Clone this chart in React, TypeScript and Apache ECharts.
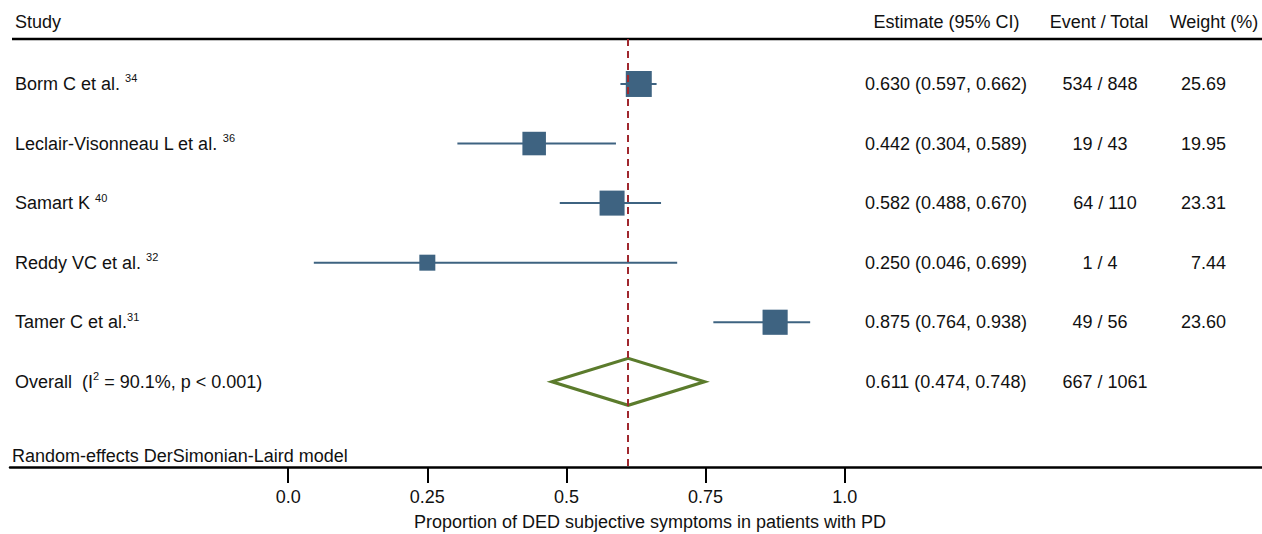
import React, { useEffect, useRef } from "react";
import * as echarts from "echarts";

const studies = ["Borm C et al. ", "Leclair-Visonneau L et al. ", "Samart K ", "Reddy VC et al. ", "Tamer C et al."];
const refs = ["34", "36", "40", "32", "31"];
const estimates = [0.630, 0.442, 0.582, 0.250, 0.875];
const lower = [0.597, 0.304, 0.488, 0.046, 0.764];
const upper = [0.662, 0.589, 0.670, 0.699, 0.938];
const events = [534, 19, 64, 1, 49];
const totals = [848, 43, 110, 4, 56];
const weights = [25.69, 19.95, 23.31, 7.44, 23.60];

const overallEst = 0.611;
const overallLo = 0.474;
const overallHi = 0.748;
const overallEvents = 667;
const overallTotal = 1061;
const i2 = "90.1%";
const pText = "p < 0.001";

const xTicks = [0, 0.25, 0.5, 0.75, 1.0];
const xTickLabels = ["0.0", "0.25", "0.5", "0.75", "1.0"];
const axisTitle = "Proportion of DED subjective symptoms in patients with PD";
const modelNote = "Random-effects DerSimonian-Laird model";

const FONT = '"Liberation Sans", Arial, Helvetica, sans-serif';
const BLUE = "#3e6381";
const RED = "#a0282e";
const GREEN = "#5b7b2c";
const INK = "#111";

const fmt3 = (v: number) => v.toFixed(3);

export default function App() {
  const ref = useRef<HTMLDivElement>(null);
  useEffect(() => {
    const chart = echarts.init(ref.current!, null, { renderer: "svg" });
    const overallRow = studies.length;
    const option: any = {
      animation: false,
      backgroundColor: "#fff",
      grid: { left: 10, width: 1252, top: 39, height: 428, outerBoundsMode: "none", containLabel: false },
      xAxis: {
        type: "value",
        min: -0.5,
        max: 1.75,
        interval: 0.25,
        axisLine: { show: true, onZero: false, lineStyle: { color: "#000", width: 2.5 } },
        axisTick: { show: true, customValues: xTicks, length: 16, lineStyle: { color: "#000", width: 2 } },
        axisLabel: {
          customValues: xTicks,
          formatter: (v: number) => {
            const k = xTicks.findIndex((t) => Math.abs(t - v) < 1e-9);
            return k >= 0 ? xTickLabels[k] : "";
          },
          fontSize: 18,
          fontFamily: FONT,
          color: INK,
          margin: 21,
        },
        splitLine: { show: false },
        name: axisTitle,
        nameLocation: "middle",
        nameGap: 46,
        nameTextStyle: { fontSize: 18, fontFamily: FONT, color: INK, padding: [0, 0, 0, 28] },
      },
      yAxis: { type: "value", inverse: true, min: -0.755, max: 6.43, show: false },
      series: [
        {
          type: "custom",
          z: 1,
          data: studies.map((_, i) => [lower[i], upper[i], i]),
          encode: { x: [0, 1], y: 2 },
          renderItem: (params: any, api: any) => {
            const p1 = api.coord([api.value(0), api.value(2)]);
            const p2 = api.coord([api.value(1), api.value(2)]);
            return {
              type: "line",
              shape: { x1: p1[0], y1: p1[1], x2: p2[0], y2: p2[1] },
              style: { stroke: BLUE, lineWidth: 2 },
            };
          },
          markLine: {
            silent: true,
            symbol: ["none", "none"],
            label: { show: false },
            lineStyle: { color: RED, type: [7, 5], width: 2 },
            data: [{ xAxis: overallEst }],
          },
        },
        {
          type: "scatter",
          z: 3,
          symbol: "rect",
          symbolSize: (v: number[]) => 7.28 * Math.pow(v[2], 0.392),
          itemStyle: { color: BLUE, opacity: 1 },
          data: studies.map((_, i) => [estimates[i], i, weights[i]]),
        },
        {
          type: "custom",
          z: 2,
          data: [[overallLo, overallEst, overallHi, overallRow]],
          encode: { x: [0, 1, 2], y: 3 },
          renderItem: (params: any, api: any) => {
            const y = api.value(3);
            const l = api.coord([api.value(0), y]);
            const c = api.coord([api.value(1), y]);
            const r = api.coord([api.value(2), y]);
            const h = 23.5;
            return {
              type: "polygon",
              shape: { points: [[l[0], l[1]], [c[0], c[1] - h], [r[0], r[1]], [c[0], c[1] + h]] },
              style: { fill: "none", stroke: GREEN, lineWidth: 3.2 },
            };
          },
        },
      ],
    };
    chart.setOption(option);

    const rowY = (i: number) => chart.convertToPixel({ yAxisIndex: 0 } as any, i) as number;
    const rich = {
      n: { fontSize: 18, fontFamily: FONT, color: INK, lineHeight: 22 },
      s: { fontSize: 11, fontFamily: FONT, color: INK, lineHeight: 12, verticalAlign: "top" },
    };
    const txt = (text: string, x: number, y: number, align: string, useRich = false) => ({
      type: "text",
      x,
      y,
      silent: true,
      style: {
        text,
        fill: INK,
        fontSize: 18,
        fontFamily: FONT,
        align,
        verticalAlign: "middle",
        textAlign: align,
        textVerticalAlign: "middle",
        ...(useRich ? { rich } : {}),
      },
    });
    const digitW = 0.556 * 18;
    const evX = (ev: number, tot: number) => 1100 + ((String(tot).length - String(ev).length) * digitW) / 2;

    const els: any[] = [
      { type: "line", silent: true, shape: { x1: 12, y1: 39, x2: 1262, y2: 39 }, style: { stroke: "#000", lineWidth: 2.5 } },
      txt("Study", 15, 22, "left"),
      txt("Estimate (95% CI)", 946.5, 22, "center"),
      txt("Event / Total", 1099, 22, "center"),
      txt("Weight (%)", 1214, 22, "center"),
      txt(modelNote, 12, 456, "left"),
    ];
    studies.forEach((s, i) => {
      const y = rowY(i);
      els.push(txt(`{n|${s}}{s|${refs[i]}}`, 15, y, "left", true));
      els.push(txt(`${fmt3(estimates[i])} (${fmt3(lower[i])}, ${fmt3(upper[i])})`, 946, y, "center"));
      els.push(txt(`${events[i]} / ${totals[i]}`, evX(events[i], totals[i]), y, "center"));
      els.push(txt(weights[i].toFixed(2), 1226, y, "right"));
    });
    const yo = rowY(overallRow);
    els.push(txt(`{n|Overall  (I}{s|2}{n| = ${i2}, ${pText})}`, 15, yo, "left", true));
    els.push(txt(`${fmt3(overallEst)} (${fmt3(overallLo)}, ${fmt3(overallHi)})`, 946, yo, "center"));
    els.push(txt(`${overallEvents} / ${overallTotal}`, evX(overallEvents, overallTotal), yo, "center"));
    chart.setOption({ graphic: els });

    return () => chart.dispose();
  }, []);
  return (
    <div
      ref={ref}
      style={{ position: "fixed", left: 0, top: 0, width: 1262, height: 534, background: "#fff" }}
    />
  );
}
